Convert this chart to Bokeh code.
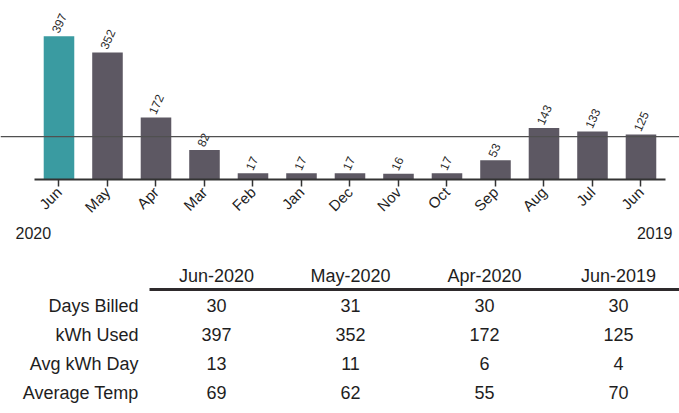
from bokeh.plotting import figure
from bokeh.models import Range1d, FixedTicker, Span, ColumnDataSource
from bokeh.layouts import column
from bokeh.core.properties import value
from bokeh.embed import file_html
from bokeh.resources import INLINE
import math

# Monthly usage, newest first (Jun 2020 back to Jun 2019)
months = ["Jun", "May", "Apr", "Mar", "Feb", "Jan", "Dec", "Nov", "Oct", "Sep", "Aug", "Jul", "Jun"]
kwh = [397, 352, 172, 82, 17, 17, 17, 16, 17, 53, 143, 133, 125]
first_year = "2020"
last_year = "2019"

# Comparison table
table_cols = ["Jun-2020", "May-2020", "Apr-2020", "Jun-2019"]
row_labels = ["Days Billed", "kWh Used", "Avg kWh Day", "Average Temp"]
days_billed = [30, 31, 30, 30]
kwh_used = [397, 352, 172, 125]
avg_kwh_day = [13, 11, 6, 4]
avg_temp = [69, 62, 55, 70]

FONT = "Liberation Sans"
TEXT = "#1e1e1e"
CURRENT = "#3a9ba1"
PAST = "#5d5863"

n = len(kwh)
idx = list(range(n))
colors = [CURRENT] + [PAST] * (n - 1)
src = ColumnDataSource(dict(x=idx, top=kwh, label=[str(v) for v in kwh], color=colors))

# ---- bar chart ----
W = 679
TOP_H = 226
p = figure(width=W, height=TOP_H, x_range=Range1d(-1.206, 12.794), y_range=Range1d(0, 496),
           output_backend="svg", toolbar_location=None,
           min_border=0, min_border_bottom=TOP_H - 179)
p.outline_line_color = None
p.grid.grid_line_color = None
p.yaxis.visible = False
p.background_fill_color = "white"
p.border_fill_color = "white"

p.vbar(x="x", top="top", width=0.63, fill_color="color", line_color=None, source=src)

# average usage line
avg = sum(kwh) / n
p.add_layout(Span(location=avg, dimension="width", line_color="#505050", line_width=1.3))

p.text(x="x", y="top", text="label", source=src, angle=1.15,
       text_align="left", text_baseline="middle", x_offset=-4, y_offset=-4,
       text_font=value(FONT), text_font_size="12px", text_color="#2a2a2a")

ax = p.xaxis[0]
ax.ticker = FixedTicker(ticks=idx)
ax.major_label_overrides = {i: m for i, m in enumerate(months)}
ax.bounds = (-0.5, n - 0.5)
ax.axis_line_color = "#333333"
ax.axis_line_width = 2
ax.major_tick_line_color = "#333333"
ax.major_tick_line_width = 1.5
ax.major_tick_in = 0
ax.major_tick_out = 7
ax.minor_tick_line_color = None
ax.major_label_orientation = math.pi / 4
ax.major_label_standoff = 3
ax.major_label_text_font = FONT
ax.major_label_text_font_size = "15px"
ax.major_label_text_color = TEXT

# ---- table ----
H = 413
t = figure(width=W, height=H - TOP_H, x_range=Range1d(0, W), y_range=Range1d(H, TOP_H),
           output_backend="svg", toolbar_location=None, min_border=0)
t.outline_line_color = None
t.grid.grid_line_color = None
t.axis.visible = False
t.background_fill_color = "white"
t.border_fill_color = "white"

# year markers under the first and last bars
t.text(x=[15], y=[232], text=[first_year], text_align="left", text_baseline="middle",
       text_font=value(FONT), text_font_size="16px", text_color=TEXT)
t.text(x=[672], y=[232], text=[last_year], text_align="right", text_baseline="middle",
       text_font=value(FONT), text_font_size="16px", text_color=TEXT)

col0, step = 216, 134
col_x = [col0 + step * i for i in range(len(table_cols))]
header_y = 275
row0, row_step = 305, 29

t.text(x=col_x, y=[header_y] * len(col_x), text=table_cols, text_align="center",
       text_baseline="middle", text_font=value(FONT), text_font_size="18px", text_color=TEXT)
t.segment(x0=[col_x[0] - step / 2], y0=[289], x1=[col_x[-1] + step / 2], y1=[289],
          line_color="#2e2a2c", line_width=3)

rows = [days_billed, kwh_used, avg_kwh_day, avg_temp]
for r, (lab, vals) in enumerate(zip(row_labels, rows)):
    y = row0 + row_step * r
    t.text(x=[138], y=[y], text=[lab], text_align="right", text_baseline="middle",
           text_font=value(FONT), text_font_size="18px", text_color=TEXT)
    t.text(x=col_x, y=[y] * len(col_x), text=[str(v) for v in vals], text_align="center",
           text_baseline="middle", text_font=value(FONT), text_font_size="18px", text_color=TEXT)

layout = column(p, t, spacing=0)
open("out.html", "w").write(file_html(layout, INLINE))
